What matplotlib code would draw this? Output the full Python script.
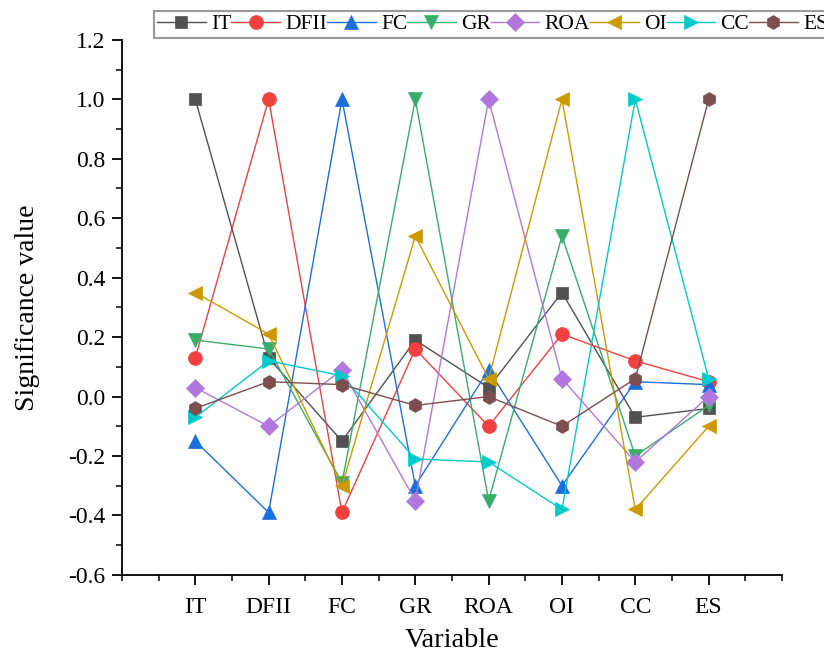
import matplotlib
matplotlib.use("Agg")
import matplotlib.pyplot as plt
from matplotlib.ticker import MultipleLocator

plt.rcParams['font.family'] = ['Liberation Serif', 'DejaVu Serif']

variables = ['IT', 'DFII', 'FC', 'GR', 'ROA', 'OI', 'CC', 'ES']

# significance value of each series at each variable
IT = [1.00, 0.13, -0.15, 0.19, 0.03, 0.35, -0.07, -0.04]
DFII = [0.13, 1.00, -0.39, 0.16, -0.10, 0.21, 0.12, 0.05]
FC = [-0.15, -0.39, 1.00, -0.30, 0.09, -0.30, 0.05, 0.04]
GR = [0.19, 0.16, -0.29, 1.00, -0.35, 0.54, -0.20, -0.03]
ROA = [0.03, -0.10, 0.09, -0.35, 1.00, 0.06, -0.22, 0.00]
OI = [0.35, 0.21, -0.30, 0.54, 0.06, 1.00, -0.38, -0.10]
CC = [-0.07, 0.12, 0.07, -0.21, -0.22, -0.38, 1.00, 0.06]
ES = [-0.04, 0.05, 0.04, -0.03, 0.00, -0.10, 0.06, 1.00]

series = [('IT', IT), ('DFII', DFII), ('FC', FC), ('GR', GR),
          ('ROA', ROA), ('OI', OI), ('CC', CC), ('ES', ES)]
colors = ['#515151', '#F14040', '#1A6FDF', '#37AD6B',
          '#B177DE', '#CC9900', '#00CBCC', '#7D4E4E']
markers = ['s', 'o', '^', 'v', 'D', '<', '>', 'h']

fig = plt.figure(figsize=(8.24, 6.54), dpi=100)
ax = fig.add_axes([0.148, 0.121, 0.801, 0.818])

x = list(range(1, len(variables) + 1))
for (name, vals), c, m in zip(series, colors, markers):
    ms = {'s': 8.5, 'D': 9}.get(m, 10)
    ax.plot(x, vals, color=c, marker=m, markersize=ms, linewidth=1.0,
            label=name, markeredgewidth=0.5)

ax.set_xlim(0, 9)
ax.set_ylim(-0.6, 1.2)
ax.set_xticks(x)
ax.set_xticklabels(variables)
ax.xaxis.set_minor_locator(MultipleLocator(0.5))
ax.yaxis.set_major_locator(MultipleLocator(0.2))
ax.yaxis.set_minor_locator(MultipleLocator(0.1))
ax.yaxis.set_major_formatter(plt.FuncFormatter(lambda v, p: f'{v:.1f}'))
ax.tick_params(which='major', direction='out', length=7, width=1.3, labelsize=17)
ax.tick_params(which='minor', direction='out', length=4, width=1.1)
ax.tick_params(axis='x', pad=9)
ax.tick_params(axis='y', pad=5)

for s in ['top', 'right']:
    ax.spines[s].set_visible(False)
for s in ['left', 'bottom']:
    ax.spines[s].set_linewidth(1.3)

ax.set_xlabel('Variable', fontsize=20.5, labelpad=7)
ax.set_ylabel('Significance value', fontsize=20, labelpad=20)

leg = fig.legend(loc='upper left', bbox_to_anchor=(154 / 824, 1 - 11 / 654),
                 ncol=8, fontsize=15.5, frameon=True, fancybox=False,
                 handlelength=2.25, handletextpad=0.25, columnspacing=0.0,
                 borderpad=0.15, borderaxespad=0)
leg.get_frame().set_edgecolor('#808080')
leg.get_frame().set_linewidth(1.5)

fig.savefig('out.png', dpi=100)
